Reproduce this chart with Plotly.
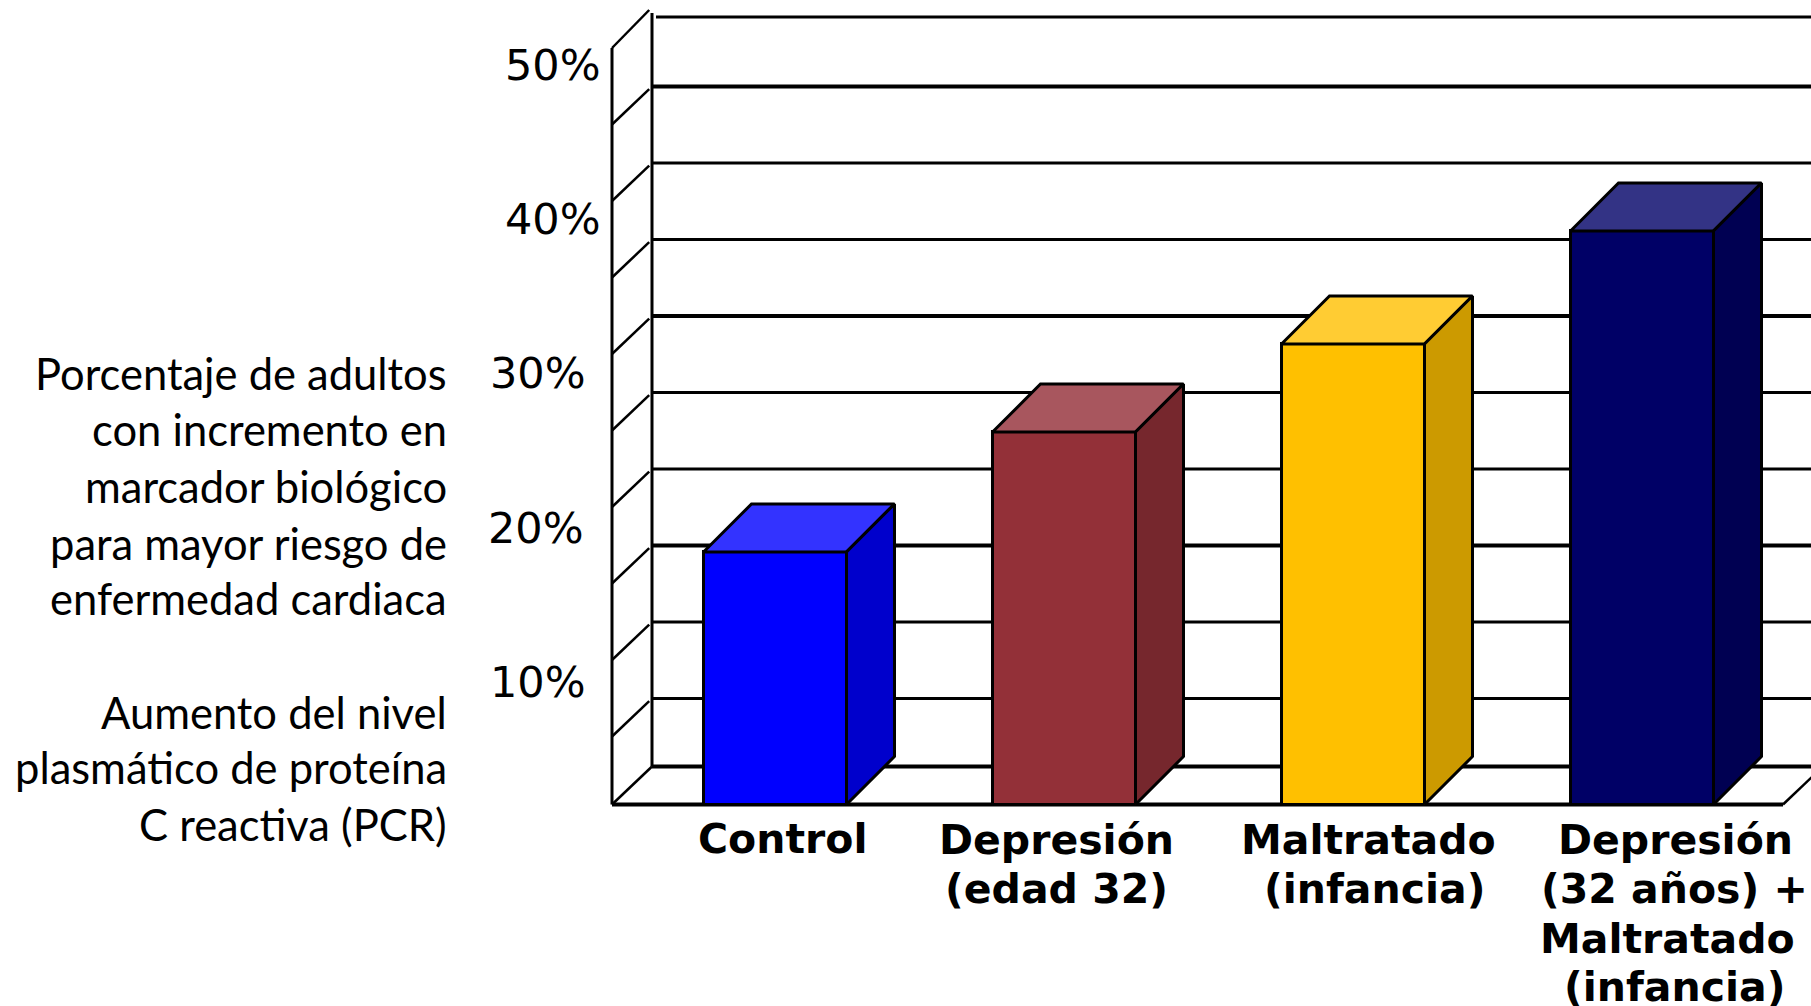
import plotly.graph_objects as go

# ---------- data ----------
categories = ["Control", "Depresión (edad 32)", "Maltratado (infancia)", "Depresión (32 años) + Maltratado (infancia)"]
values = [17.06, 24.9, 30.65, 38.04]
tick_values = [10, 20, 30, 40, 50]
tick_labels = ["10%", "20%", "30%", "40%", "50%"]
grid_values = [5, 10, 15, 20, 25, 30, 35, 40, 45]
cat_lines = [["Control"], ["Depresión", "(edad 32)"], ["Maltratado", "(infancia)"],
             ["Depresión", "(32 años) +", "Maltratado", "(infancia)"]]
side_text = ["Porcentaje de adultos", "con incremento en", "marcador biológico",
             "para mayor riesgo de", "enfermedad cardiaca", "",
             "Aumento del nivel", "plasmático de proteína", "C reactiva (PCR)"]

# ---------- styles ----------
W, H = 1811, 1006
front = ["#0000FF", "#933038", "#FFC000", "#000066"]
top_c = ["#3333FF", "#A8565E", "#FFCC33", "#333385"]
side = ["#0000CC", "#76272D", "#CC9A00", "#000052"]
PX_X = 289.0            # pixels per category
PX_Y = 15.3             # pixels per percentage point
X0_PX, Y0_PX = 775.0, 813.0
FLOOR = (Y0_PX - 804.5) / PX_Y
WALL_DX, WALL_DY = 40 / PX_X, 38 / PX_Y
BAR_DX, BAR_DY = 48 / PX_X, 48 / PX_Y
BAR_W = 143 / PX_X
LEFT = (612 - X0_PX) / PX_X
RIGHT = (1783 - X0_PX) / PX_X
XEND = 3.7
thick_grid = {15, 30, 45}
TOP_LINE = (Y0_PX - 17) / PX_Y
TOP_WALL = (Y0_PX - 13) / PX_Y


def line(x0, y0, x1, y1, w=3):
    return dict(type="line", xref="x", yref="y", x0=x0, y0=y0, x1=x1, y1=y1,
                layer="below", line=dict(color="black", width=w))


shapes = []
# side wall and back wall verticals
shapes.append(line(LEFT, FLOOR, LEFT, 50, 3))
shapes.append(line(LEFT + WALL_DX, FLOOR + WALL_DY, LEFT + WALL_DX, TOP_WALL, 3))
# gridlines on the back wall with their diagonals on the side wall
for v in grid_values:
    shapes.append(line(LEFT + WALL_DX, v + WALL_DY, XEND, v + WALL_DY, 4 if v in thick_grid else 3))
    shapes.append(line(LEFT, v, LEFT + WALL_DX * 0.93, v + WALL_DY * 0.93, 2.5))
# top gridline and top diagonal
shapes.append(line(LEFT + WALL_DX + 4 / PX_X, TOP_LINE, XEND, TOP_LINE, 3))
shapes.append(line(LEFT, 50, LEFT + WALL_DX * 0.93, 50 + WALL_DY, 2.5))
# floor
shapes.append(line(LEFT + WALL_DX, FLOOR + WALL_DY, XEND, FLOOR + WALL_DY, 4))
shapes.append(line(LEFT, FLOOR, LEFT + WALL_DX, FLOOR + WALL_DY, 2.5))
shapes.append(line(LEFT, FLOOR, RIGHT, FLOOR, 4))
shapes.append(line(RIGHT, FLOOR, RIGHT + WALL_DX, FLOOR + WALL_DY, 2.5))

fig = go.Figure()
xs = list(range(len(categories)))

# front faces
fig.add_trace(go.Bar(x=xs, y=[v - FLOOR for v in values], base=FLOOR, width=BAR_W,
                     marker=dict(color=front, line=dict(color="black", width=3)),
                     hovertext=categories, showlegend=False))

# top and side faces, derived from the same values
for i, v in enumerate(values):
    l, r = i - BAR_W / 2, i + BAR_W / 2
    fig.add_trace(go.Scatter(x=[l, r, r + BAR_DX, l + BAR_DX, l], y=[v, v, v + BAR_DY, v + BAR_DY, v],
                             mode="lines", fill="toself", fillcolor=top_c[i],
                             line=dict(color="black", width=3), showlegend=False, hoverinfo="skip"))
    fig.add_trace(go.Scatter(x=[r, r + BAR_DX, r + BAR_DX, r, r],
                             y=[FLOOR, FLOOR + BAR_DY, v + BAR_DY, v, FLOOR],
                             mode="lines", fill="toself", fillcolor=side[i],
                             line=dict(color="black", width=3), showlegend=False, hoverinfo="skip"))

ann = []


def px_text(text, x, y, size, family, anchor="center", bold=False):
    if bold:
        text = "<b>" + text + "</b>"
    ann.append(dict(text=text, xref="paper", yref="paper", x=x / W, y=1 - y / H, xanchor=anchor,
                    yanchor="middle", showarrow=False, align=anchor if anchor != "center" else "center",
                    font=dict(size=size, family=family, color="black")))


# percent labels (hand-placed in the reference, not aligned to the gridlines)
tick_px = {10: (588, 682), 20: (586, 528), 30: (588, 373), 40: (603, 219), 50: (603, 65)}
for v, t in zip(tick_values, tick_labels):
    px_text(t, tick_px[v][0], tick_px[v][1], 43, "DejaVu Sans", "right")

# left-hand explanatory text
side_y = [373, 429, 486, 543, 598, 655, 712, 767, 824]
for t, y in zip(side_text, side_y):
    if t:
        px_text(t, 449, y, 43.5, "Lato", "right")

# category labels
cat_x = [[783], [1056, 1056], [1368, 1374], [1675, 1674, 1667, 1674]]
cat_y = [[839], [840, 889], [840, 889], [840, 889, 939, 987]]
for lines, xl, yl in zip(cat_lines, cat_x, cat_y):
    for t, x, y in zip(lines, xl, yl):
        px_text(t, x, y, 41, "DejaVu Sans", "center", bold=True)

fig.update_layout(
    width=W, height=H, autosize=False,
    margin=dict(l=0, r=0, t=0, b=0),
    paper_bgcolor="white", plot_bgcolor="white",
    showlegend=False, shapes=shapes, annotations=ann,
    bargap=0,
    xaxis=dict(range=[-X0_PX / PX_X, (W - X0_PX) / PX_X], visible=False, fixedrange=True),
    yaxis=dict(range=[(Y0_PX - H) / PX_Y, Y0_PX / PX_Y], visible=False, fixedrange=True),
)
fig.write_html("out.html", config={"displayModeBar": False},
               post_script="document.body.style.margin='0';document.body.style.overflow='hidden';")
